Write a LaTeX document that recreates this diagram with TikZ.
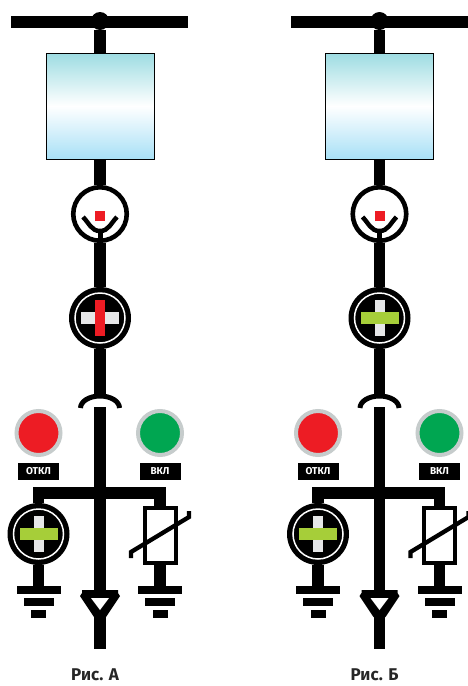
\documentclass[tikz,border=0pt]{standalone}
\usepackage{fontspec}
\setmainfont{Fira Sans}
\usetikzlibrary{positioning}

\newcommand{\breakernode}[4]{%
    \node[disc] (#1) at (#2) {};
    \node[ring] (#1ring) at (#2) {};
    \node[#3] (#1under) at (#2) {};
    \node[#4] (#1over) at (#2) {};
}

\begin{document}
\begin{tikzpicture}[x=1pt,y=-1pt,
        wire/.style = {line width=11.5pt},
        panel/.style = {
            draw, line width=0.8pt,
            top color=panelTop, bottom color=panelBottom, middle color=white,
            minimum width=108pt, minimum height=106pt, inner sep=0pt
        },
        meter/.style = {draw, circle, line width=4.6pt, fill=white, minimum size=53.5pt, inner sep=0pt},
        disc/.style = {circle, fill=black, minimum size=62pt, inner sep=0pt},
        ring/.style = {circle, draw=white, line width=1.5pt, minimum size=50pt, inner sep=0pt},
        barh/.style = {fill=#1, minimum width=38pt, minimum height=12pt, inner sep=0pt},
        barv/.style = {fill=#1, minimum width=10pt, minimum height=36pt, inner sep=0pt},
        greyh/.style = {barh=crossGrey},
        greyv/.style = {barv=crossGrey},
        redv/.style = {barv=offRed},
        greenh/.style = {barh=onBar},
        lamp/.style = {circle, draw=lampRim, line width=4pt, fill=#1, minimum size=44pt, inner sep=0pt},
        tag/.style = {fill=black, text=white, font=\bfseries\fontsize{10}{11}\selectfont,
            minimum width=41pt, minimum height=16.5pt, inner sep=0pt},
        earth/.style = {fill=black, minimum width=#1, inner sep=0pt},
        caption/.style = {font=\bfseries\fontsize{17}{19}\selectfont, text=black!85, anchor=base, inner sep=0pt}
    ]
    \definecolor{panelTop}{HTML}{9DDCE2}
    \definecolor{panelBottom}{HTML}{A8E0F6}
    \definecolor{lampRim}{HTML}{C6CCCC}
    \definecolor{offRed}{HTML}{ED1C24}
    \definecolor{onGreen}{HTML}{00A651}
    \definecolor{onBar}{HTML}{A6CE39}
    \definecolor{crossGrey}{HTML}{E6E7E8}

    \useasboundingbox (0,0) rectangle (468,686);

    \foreach \s/\dx/\under/\over/\letter in {
        a/0/greyh/redv/А,
        b/279.5/greyv/greenh/Б} {
    \begin{scope}[xshift=\dx pt]
        % top bus and panel
        \node[fill=black, minimum width=177pt, minimum height=11.5pt, inner sep=0pt] (bus\s) at (99.5,21.75) {};
        \node[circle, fill=black, minimum size=18pt, inner sep=0pt] (dot\s) at (100,21) {};
        \node[panel] (panel\s) at (100,106) {};

        % measuring circle
        \node[meter] (meter\s) at (100,214) {};
        \node[fill=offRed, minimum size=10pt, inner sep=0pt] (mark\s) at (100,216) {};
        \coordinate (forkl\s) at (83,217);
        \coordinate (forkr\s) at (117,217);
        \coordinate (fork\s) at (100,231);

        % main breaker and hook
        \breakernode{brk\s}{100,318}{\under}{\over}
        \coordinate (hookl\s) at (80.5,408);
        \coordinate (hook\s) at (100,396);
        \coordinate (drop\s) at (100,407);
        \coordinate (tee\s) at (100,493);

        % lamps
        \node[lamp=offRed] (off\s) at (38.5,433) {};
        \node[lamp=onGreen] (on\s) at (160,433) {};
        \node[tag, below=6pt of off\s] (offtag\s) {ОТКЛ};
        \node[tag, below=6pt of on\s] (ontag\s) {ВКЛ};

        % lower branches
        \breakernode{brkl\s}{38.5,534}{greyv}{greenh}
        \node[draw, line width=4pt, fill=white, minimum width=31pt, minimum height=55pt, inner sep=0pt] (arr\s) at (160,535) {};
        \coordinate (va\s) at (131,558);
        \coordinate (vb\s) at (131,552);
        \coordinate (vc\s) at (189,517);
        \coordinate (vd\s) at (189,511);

        \node[earth=44pt, minimum height=8pt] (earthl\s) at (38.5,590) {};
        \node[earth=30pt, minimum height=7.5pt, below=4pt of earthl\s] (earthlb\s) {};
        \node[earth=15pt, minimum height=7.5pt, below=4pt of earthlb\s] (earthlc\s) {};
        \node[earth=44pt, minimum height=8pt] (earthr\s) at (160,590) {};
        \node[earth=30pt, minimum height=7.5pt, below=4pt of earthr\s] (earthrb\s) {};
        \node[earth=15pt, minimum height=7.5pt, below=4pt of earthrb\s] (earthrc\s) {};

        % cable head
        \coordinate (headt\s) at (100,590);
        \coordinate (heada\s) at (100,610);
        \coordinate (tail\s) at (100,648.5);

        \node[caption] (cap\s) at (95,680.5) {Рис. \letter};

        \draw[wire] (dot\s) -- (panel\s);
        \draw[wire] (panel\s) -- (meter\s);
        \draw[line width=4.5pt] (forkl\s) to[out=-45,in=180] (fork\s) to[out=0,in=-135] (forkr\s);
        \draw[line width=5pt] (fork\s) -- (meter\s.south);
        \draw[wire] (meter\s) -- (brk\s);
        \draw[wire] (brk\s) -- (hook\s);
        \draw[line width=5pt] (hookl\s) arc[start angle=180, end angle=0, x radius=19.5pt, y radius=12pt];
        \draw[wire] (drop\s) -- (headt\s);
        \draw[wire] (brkl\s) |- (tee\s) -| (arr\s);
        \draw[wire] (brkl\s) -- (earthl\s);
        \draw[wire] (arr\s) -- (earthr\s);
        \draw[line width=4.3pt] (va\s) -- (vb\s) -- (vc\s) -- (vd\s);
        \draw[wire] (heada\s) -- (tail\s);
        \fill (82,590) -- (118,590) -- (118,593) -- (120,596) -- (106,617) -- (94,617) -- (80,596) -- (82,593) -- cycle;
        \fill[white] (91,598) -- (109,598) -- (heada\s) -- cycle;
    \end{scope}
    }
\end{tikzpicture}
\end{document}
